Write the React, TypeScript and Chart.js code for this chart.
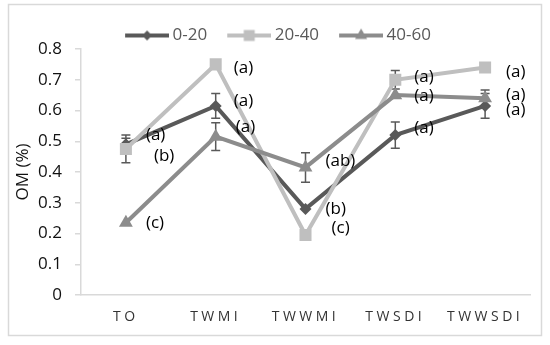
import React, { useEffect, useRef } from 'react';
import { Chart, registerables } from 'chart.js';

Chart.register(...registerables);

// ---------- data ----------
const categories = ['TO', 'TWMI', 'TWWMI', 'TWSDI', 'TWWSDI'];
const seriesNames = ['0-20', '20-40', '40-60'];
const om0_20 = [0.49, 0.615, 0.28, 0.52, 0.615];
const om20_40 = [0.475, 0.75, 0.195, 0.7, 0.74];
const om40_60 = [0.235, 0.515, 0.415, 0.65, 0.64];
const err0_20 = [0.02, 0.04, 0, 0.043, 0.04];
const err20_40 = [0.045, 0, 0, 0.03, 0];
const err40_60 = [0, 0.045, 0.048, 0, 0.027];
const letters0_20 = ['(a)', '(a)', '(b)', '(a)', '(a)'];
const letters20_40 = ['(b)', '(a)', '(c)', '(a)', '(a)'];
const letters40_60 = ['(c)', '(a)', '(ab)', '(a)', '(a)'];
const yTickLabels = ['0', '0.1', '0.2', '0.3', '0.4', '0.5', '0.6', '0.7', '0.8'];

// ---------- style / placement ----------
const colors = ['#595959', '#bfbfbf', '#8c8c8c'];
const markers = ['rectRot', 'rect', 'triangle'];
const radii = [6, 8.5, 8];
const labelDx = [
  [20, 18, 20, 19, 21],
  [28, 18, 26, 19, 21],
  [20, 20, 20, 19, 21],
];
const labelDy = [
  [-9, -5, 0, -7, 4],
  [7, 4, -7, -3, 5],
  [0, -9, -6, 1, -3],
];
const FONT = "'Open Sans', sans-serif";

function makeLegendIcon(color: string, style: string): HTMLCanvasElement {
  const c = document.createElement('canvas');
  c.width = 55;
  c.height = 18;
  const g = c.getContext('2d')!;
  g.strokeStyle = color;
  g.fillStyle = color;
  g.lineWidth = 4;
  g.beginPath();
  g.moveTo(11, 9);
  g.lineTo(55, 9);
  g.stroke();
  const cx = 33, cy = 9;
  g.beginPath();
  if (style === 'rectRot') {
    const r = 5;
    g.moveTo(cx - r, cy);
    g.lineTo(cx, cy - r);
    g.lineTo(cx + r, cy);
    g.lineTo(cx, cy + r);
  } else if (style === 'rect') {
    g.rect(cx - 5.5, cy - 5.5, 11, 11);
  } else {
    const r = 7;
    g.moveTo(cx, cy - r);
    g.lineTo(cx + r * 0.866, cy + r * 0.5);
    g.lineTo(cx - r * 0.866, cy + r * 0.5);
  }
  g.closePath();
  g.fill();
  return c;
}

const frameBorder = {
  id: 'frameBorder',
  beforeDraw(chart: any) {
    const ctx = chart.ctx;
    ctx.save();
    ctx.fillStyle = '#ffffff';
    ctx.fillRect(0, 0, chart.width, chart.height);
    ctx.strokeStyle = '#d9d9d9';
    ctx.lineWidth = 1.5;
    ctx.strokeRect(8.5, 4.5, 533, 331);
    ctx.restore();
    const s: any = chart.scales.x;
    if (s && !s.__ls) {
      const orig = s.drawLabels.bind(s);
      s.drawLabels = (area: any) => {
        ctx.save();
        ctx.letterSpacing = '3.5px';
        orig(area);
        ctx.restore();
      };
      s.__ls = true;
    }
  },
};

const errorBars = {
  id: 'errorBars',
  beforeDatasetDraw(chart: any, args: any) {
    const i = args.index;
    const errs = [err0_20, err20_40, err40_60][i];
    const vals = [om0_20, om20_40, om40_60][i];
    const meta = chart.getDatasetMeta(i);
    const ys = chart.scales.y;
    const ctx = chart.ctx;
    ctx.save();
    ctx.strokeStyle = '#595959';
    ctx.lineWidth = 1.5;
    meta.data.forEach((pt: any, j: number) => {
      const e = errs[j];
      if (!e) return;
      const t = ys.getPixelForValue(vals[j] + e);
      const b = ys.getPixelForValue(vals[j] - e);
      ctx.beginPath();
      ctx.moveTo(pt.x, t);
      ctx.lineTo(pt.x, b);
      ctx.moveTo(pt.x - 4.5, t);
      ctx.lineTo(pt.x + 4.5, t);
      ctx.moveTo(pt.x - 4.5, b);
      ctx.lineTo(pt.x + 4.5, b);
      ctx.stroke();
    });
    ctx.restore();
  },
};

const letterLabels = {
  id: 'letterLabels',
  afterDatasetsDraw(chart: any) {
    const ctx = chart.ctx;
    ctx.save();
    ctx.font = `17px ${FONT}`;
    ctx.fillStyle = '#000000';
    ctx.textAlign = 'left';
    ctx.textBaseline = 'middle';
    [letters0_20, letters20_40, letters40_60].forEach((arr, i) => {
      const meta = chart.getDatasetMeta(i);
      meta.data.forEach((pt: any, j: number) => {
        ctx.fillText(arr[j], pt.x + labelDx[i][j], pt.y + labelDy[i][j]);
      });
    });
    ctx.restore();
  },
};

export default function App() {
  const ref = useRef<HTMLCanvasElement | null>(null);
  useEffect(() => {
    if (!ref.current) return;
    Chart.defaults.font.family = FONT;
    const series = [om0_20, om20_40, om40_60];
    const icons = colors.map((c, i) => makeLegendIcon(c, markers[i]));
    const chart = new Chart(ref.current, {
      type: 'line',
      data: {
        labels: categories,
        datasets: series.map((d, i) => ({
          label: seriesNames[i],
          data: d,
          borderColor: colors[i],
          backgroundColor: colors[i],
          borderWidth: 4,
          pointStyle: markers[i] as any,
          pointRadius: radii[i],
          pointHoverRadius: radii[i],
          pointBorderWidth: 0,
          pointBackgroundColor: colors[i],
          tension: 0,
          order: 3 - i,
        })),
      },
      options: {
        animation: false,
        responsive: false,
        devicePixelRatio: 1,
        layout: { padding: { left: 0, right: 0, top: 13, bottom: 0 } },
        plugins: {
          tooltip: { enabled: false },
          legend: {
            position: 'top',
            maxHeight: 36,
            labels: {
              usePointStyle: true,
              pointStyleWidth: 45,
              padding: 14,
              color: '#595959',
              font: { size: 17, family: FONT },
              generateLabels: (ch: any) => {
                const base = Chart.defaults.plugins.legend.labels.generateLabels(ch);
                return base
                  .sort((a: any, b: any) => a.datasetIndex - b.datasetIndex)
                  .map((it: any) => ({ ...it, pointStyle: icons[it.datasetIndex] }));
              },
            },
          },
        },
        scales: {
          x: {
            type: 'category',
            offset: true,
            grid: { display: false, drawTicks: false },
            border: { display: true, color: '#d9d9d9', width: 1.5 },
            ticks: { color: '#333333', font: { size: 14, family: FONT }, padding: 14, maxRotation: 0 },
            afterFit: (s: any) => { s.height = 50; },
          },
          y: {
            min: 0,
            max: 0.8,
            position: 'left',
            grid: { display: true, drawOnChartArea: false, drawTicks: true, tickLength: 6, color: '#d9d9d9', lineWidth: 1.5 },
            border: { display: true, color: '#d9d9d9', width: 1.5 },
            ticks: {
              stepSize: 0.1,
              padding: 13,
              color: '#111111',
              font: { size: 17, family: FONT },
              callback: (_v: any, idx: number) => yTickLabels[idx],
            },
            title: { display: true, text: 'OM (%)', color: '#111111', font: { size: 17, family: FONT }, padding: { top: 13, bottom: 0 } },
            afterFit: (s: any) => { s.width = 81; },
          },
          y2: {
            position: 'right',
            display: true,
            grid: { display: false, drawTicks: false },
            border: { display: false },
            ticks: { display: false },
            afterFit: (s: any) => { s.width = 20; },
          },
        },
      } as any,
      plugins: [frameBorder, errorBars, letterLabels],
    });
    return () => chart.destroy();
  }, []);
  return (
    <div style={{ position: 'absolute', left: 0, top: 0, width: 550, height: 345 }}>
      <canvas ref={ref} width={550} height={345} style={{ display: 'block' }} />
    </div>
  );
}
